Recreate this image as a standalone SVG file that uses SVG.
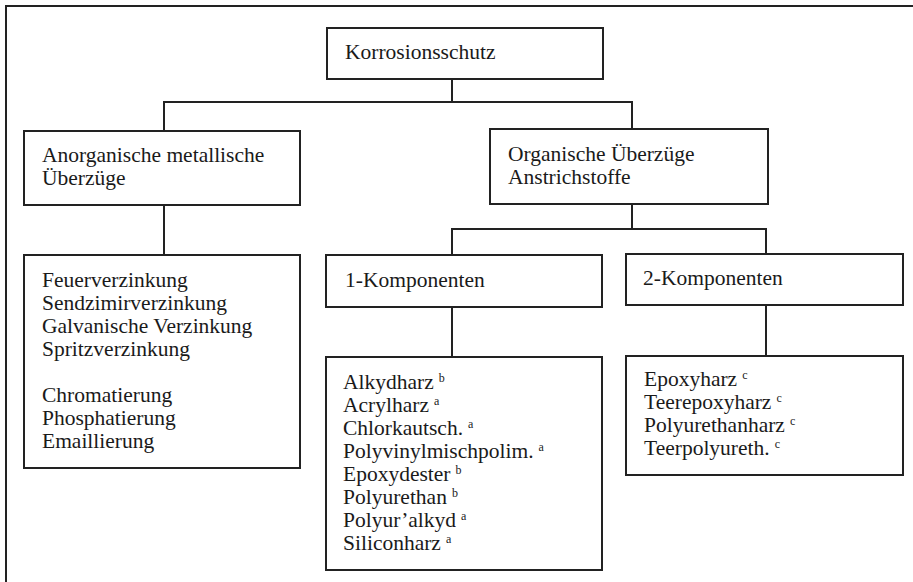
<svg xmlns="http://www.w3.org/2000/svg" width="913" height="582" viewBox="0 0 913 582">
<style>
.box{fill:#fff;stroke:#222;stroke-width:2}
.ln{fill:none;stroke:#222;stroke-width:2}
text{font-family:"Liberation Serif","Times New Roman",serif;font-size:21.5px;fill:#1a1a1a}
.sup{font-size:12px}
</style>
<rect x="0" y="0" width="913" height="582" fill="#fff"/>
<path class="ln" d="M6,582 V6 H913"/>
<g id="connectors">
<path class="ln" d="M452,79 V102 M164,131 V102 H632 V129"/>
<path class="ln" d="M164,205 V255"/>
<path class="ln" d="M632,204 V229 M452,255 V229 H766 V254"/>
<path class="ln" d="M452,307 V357"/>
<path class="ln" d="M766,305 V356"/>
</g>
<g id="root">
<rect class="box" x="327" y="28" width="276" height="51"/>
<text x="345" y="59">Korrosionsschutz</text>
</g>
<g id="anorganisch">
<rect class="box" x="24" y="131" width="276" height="74"/>
<text x="42" y="162">Anorganische metallische</text>
<text x="42" y="185">Überzüge</text>
</g>
<g id="organisch">
<rect class="box" x="490" y="129" width="278" height="75"/>
<text x="508" y="161">Organische Überzüge</text>
<text x="508" y="184">Anstrichstoffe</text>
</g>
<g id="verfahren">
<rect class="box" x="24" y="255" width="276" height="213"/>
<text x="42" y="287">Feuerverzinkung</text>
<text x="42" y="310">Sendzimirverzinkung</text>
<text x="42" y="333">Galvanische Verzinkung</text>
<text x="42" y="356">Spritzverzinkung</text>
<text x="42" y="402">Chromatierung</text>
<text x="42" y="425">Phosphatierung</text>
<text x="42" y="448">Emaillierung</text>
</g>
<g id="k1">
<rect class="box" x="326" y="255" width="276" height="52"/>
<text x="345" y="287">1-Komponenten</text>
</g>
<g id="k2">
<rect class="box" x="626" y="254" width="277" height="51"/>
<text x="643" y="285">2-Komponenten</text>
</g>
<g id="k1list">
<rect class="box" x="326" y="357" width="276" height="213"/>
<text x="343" y="389">Alkydharz<tspan class="sup" dx="5" dy="-7">b</tspan></text>
<text x="343" y="412">Acrylharz<tspan class="sup" dx="5" dy="-7">a</tspan></text>
<text x="343" y="435">Chlorkautsch.<tspan class="sup" dx="5" dy="-7">a</tspan></text>
<text x="343" y="458">Polyvinylmischpolim.<tspan class="sup" dx="5" dy="-7">a</tspan></text>
<text x="343" y="481">Epoxydester<tspan class="sup" dx="5" dy="-7">b</tspan></text>
<text x="343" y="504">Polyurethan<tspan class="sup" dx="5" dy="-7">b</tspan></text>
<text x="343" y="527">Polyur’alkyd<tspan class="sup" dx="5" dy="-7">a</tspan></text>
<text x="343" y="550">Siliconharz<tspan class="sup" dx="5" dy="-7">a</tspan></text>
</g>
<g id="k2list">
<rect class="box" x="626" y="356" width="277" height="119"/>
<text x="644" y="386">Epoxyharz<tspan class="sup" dx="5" dy="-7">c</tspan></text>
<text x="644" y="409">Teerepoxyharz<tspan class="sup" dx="5" dy="-7">c</tspan></text>
<text x="644" y="432">Polyurethanharz<tspan class="sup" dx="5" dy="-7">c</tspan></text>
<text x="644" y="455">Teerpolyureth.<tspan class="sup" dx="5" dy="-7">c</tspan></text>
</g>
</svg>
